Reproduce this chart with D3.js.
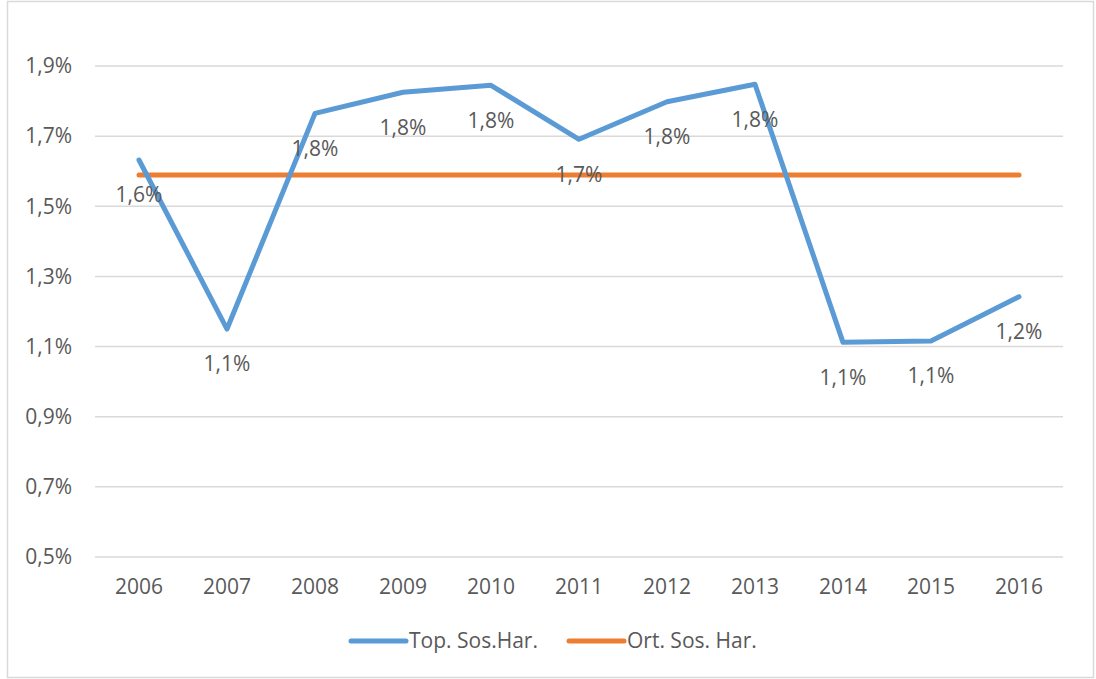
<!DOCTYPE html>
<html>
<head>
<meta charset="utf-8">
<script src="https://cdn.jsdelivr.net/npm/d3@7"></script>
<style>
  html, body { margin: 0; padding: 0; background: #fff; }
  svg { display: block; }
  text { font-family: "Open Sans", Lato, sans-serif; fill: #595959; }
</style>
</head>
<body>
<svg id="chart" width="1096" height="679"></svg>
<script>
const years = ["2006","2007","2008","2009","2010","2011","2012","2013","2014","2015","2016"];
const topSos = [1.632, 1.150, 1.765, 1.825, 1.845, 1.691, 1.798, 1.848, 1.112, 1.116, 1.242];
const topLabels = ["1,6%","1,1%","1,8%","1,8%","1,8%","1,7%","1,8%","1,8%","1,1%","1,1%","1,2%"];
const ortSos = [1.589, 1.589, 1.589, 1.589, 1.589, 1.589, 1.589, 1.589, 1.589, 1.589, 1.589];
const yTicks = [0.5, 0.7, 0.9, 1.1, 1.3, 1.5, 1.7, 1.9];
const seriesNames = ["Top. Sos.Har.", "Ort. Sos. Har."];
const colors = ["#5b9bd5", "#ed7d31"];
const FS = 21;

const svg = d3.select("#chart");

// outer border
svg.append("rect").attr("x", 7.5).attr("y", 1.5).attr("width", 1086).attr("height", 676)
  .attr("fill", "#fff").attr("stroke", "#d9d9d9").attr("stroke-width", 1.5);

const x = d3.scaleBand().domain(years).range([95, 1063]);
const y = d3.scaleLinear().domain([0.5, 1.9]).range([557, 66]);
const cx = d => x(d) + x.bandwidth() / 2;

// gridlines
svg.append("g").selectAll("line").data(yTicks).join("line")
  .attr("x1", 95).attr("x2", 1063)
  .attr("y1", d => y(d)).attr("y2", d => y(d))
  .attr("stroke", "#d9d9d9").attr("stroke-width", 1.5);

// y axis labels
const fmt = d => d.toFixed(1).replace(".", ",") + "%";
svg.append("g").selectAll("text").data(yTicks).join("text")
  .attr("x", 72).attr("y", d => y(d)).attr("dy", "0.35em")
  .attr("text-anchor", "end").attr("font-size", FS)
  .text(fmt);

// x axis labels
svg.append("g").selectAll("text").data(years).join("text")
  .attr("x", d => cx(d)).attr("y", 587).attr("dy", "0.35em")
  .attr("text-anchor", "middle").attr("font-size", FS)
  .text(d => d);

const line = d3.line().x((d, i) => cx(years[i])).y(d => y(d));

// average line
svg.append("path").datum(ortSos).attr("d", line)
  .attr("fill", "none").attr("stroke", colors[1]).attr("stroke-width", 5)
  .attr("stroke-linecap", "round").attr("stroke-linejoin", "round");

// main line
svg.append("path").datum(topSos).attr("d", line)
  .attr("fill", "none").attr("stroke", colors[0]).attr("stroke-width", 5)
  .attr("stroke-linecap", "round").attr("stroke-linejoin", "round");

// data labels
svg.append("g").selectAll("text").data(topSos).join("text")
  .attr("x", (d, i) => cx(years[i]))
  .attr("y", d => y(d) + 35).attr("dy", "0.35em")
  .attr("text-anchor", "middle").attr("font-size", FS)
  .text((d, i) => topLabels[i]);

// legend
const legendX = [351, 569];
const lg = svg.append("g").selectAll("g").data(seriesNames).join("g");
lg.append("line")
  .attr("x1", (d, i) => legendX[i]).attr("x2", (d, i) => legendX[i] + 55)
  .attr("y1", 641).attr("y2", 641)
  .attr("stroke", (d, i) => colors[i]).attr("stroke-width", 5).attr("stroke-linecap", "round");
lg.append("text")
  .attr("x", (d, i) => legendX[i] + 58).attr("y", 641).attr("dy", "0.35em")
  .attr("font-size", FS)
  .text(d => d);
</script>
</body>
</html>
